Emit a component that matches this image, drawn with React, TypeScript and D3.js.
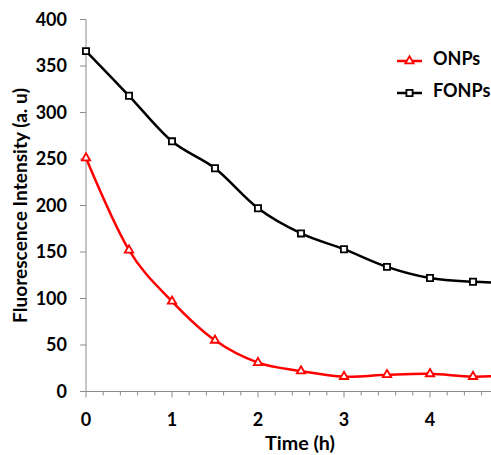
import React, { useEffect, useRef } from 'react';
import * as d3 from 'd3';

// Time points (h)
const times = [0, 0.5, 1, 1.5, 2, 2.5, 3, 3.5, 4, 4.5, 5];
// Fluorescence intensity (a. u)
const onps = [251, 152, 97, 55, 31, 22, 16, 18, 19, 16, 18];
const fonps = [366, 318, 269, 240, 197, 170, 153, 134, 122, 118, 117];
const xTicks = [0, 1, 2, 3, 4];
const yTicks = [0, 50, 100, 150, 200, 250, 300, 350, 400];

const W = 491;
const H = 455;
const font = "Lato, 'Open Sans', sans-serif";

/* Draws the fluorescence decay chart */
function App() {
    const svgRef = useRef<SVGSVGElement>(null);

    useEffect(() => {
        const svg = d3.select(svgRef.current);
        svg.selectAll('*').remove();

        const x = d3.scaleLinear().domain([0, 5]).range([86, 516]);
        const y = d3.scaleLinear().domain([0, 400]).range([391.5, 19.5]);
        const axisColor = '#8c8c8c';

        const boldText = (sel: any, size: number) =>
            sel.style('font-family', font)
                .style('font-size', `${size}px`)
                .style('font-weight', 'bold')
                .attr('fill', '#000000');

        // Axes lines
        svg.append('line')
            .attr('x1', x(0)).attr('x2', W)
            .attr('y1', y(0)).attr('y2', y(0))
            .attr('stroke', axisColor).attr('stroke-width', 1);
        svg.append('line')
            .attr('x1', x(0)).attr('x2', x(0))
            .attr('y1', y(0)).attr('y2', y(400))
            .attr('stroke', axisColor).attr('stroke-width', 1);

        // x ticks: minor every 0.2, major every 1
        const minor = d3.range(0, 26).map((i) => i * 0.2);
        svg.append('g')
            .selectAll('line')
            .data(minor)
            .enter()
            .append('line')
            .attr('x1', (d) => x(d)).attr('x2', (d) => x(d))
            .attr('y1', y(0))
            .attr('y2', (d) => y(0) + (Math.abs(d - Math.round(d)) < 1e-6 ? 6 : 4))
            .attr('stroke', axisColor);

        boldText(svg.append('g')
            .selectAll('text')
            .data(xTicks)
            .enter()
            .append('text')
            .attr('x', (d) => x(d))
            .attr('y', 425.5)
            .attr('text-anchor', 'middle'), 18)
            .text((d) => d);

        // y ticks
        svg.append('g')
            .selectAll('line')
            .data(yTicks)
            .enter()
            .append('line')
            .attr('x1', x(0) - 6).attr('x2', x(0))
            .attr('y1', (d) => y(d)).attr('y2', (d) => y(d))
            .attr('stroke', axisColor);

        boldText(svg.append('g')
            .selectAll('text')
            .data(yTicks)
            .enter()
            .append('text')
            .attr('x', 67)
            .attr('y', (d) => y(d))
            .attr('dy', '0.36em')
            .attr('text-anchor', 'end'), 18)
            .text((d) => d);

        // Axis titles
        boldText(svg.append('text')
            .attr('x', 300).attr('y', 450)
            .attr('text-anchor', 'middle')
            .attr('textLength', 70)
            .attr('lengthAdjust', 'spacingAndGlyphs'), 18)
            .text('Time (h)');

        boldText(svg.append('text')
            .attr('transform', `translate(27, 205.5) rotate(-90)`)
            .attr('text-anchor', 'middle')
            .attr('textLength', 235)
            .attr('lengthAdjust', 'spacingAndGlyphs'), 18)
            .text('Fluorescence Intensity (a. u)');

        // Lines
        const line = d3.line<number>()
            .x((_, i) => x(times[i]))
            .y((d) => y(d))
            .curve(d3.curveCardinal.tension(0));

        const series = [
            { name: 'ONPs', values: onps, color: '#ff0000', marker: 'tri' },
            { name: 'FONPs', values: fonps, color: '#000000', marker: 'sq' },
        ];

        const tri = d3.symbol().type(d3.symbolTriangle).size(30);
        const sq = d3.symbol().type(d3.symbolSquare).size(38);

        const plot = svg.append('g');
        series.forEach((s) => {
            plot.append('path')
                .attr('d', line(s.values))
                .attr('fill', 'none')
                .attr('stroke', s.color)
                .attr('stroke-width', 2.5);

            plot.selectAll(null)
                .data(s.values)
                .enter()
                .append('path')
                .attr('d', s.marker === 'tri' ? tri() : sq())
                .attr('transform', (d, i) => `translate(${x(times[i])}, ${y(d)})`)
                .attr('fill', '#ffffff')
                .attr('stroke', s.color)
                .attr('stroke-width', 1.8);
        });

        // Legend
        const legend = svg.append('g');
        series.forEach((s, i) => {
            const ly = 61 + i * 32;
            legend.append('line')
                .attr('x1', 397).attr('x2', 422)
                .attr('y1', ly).attr('y2', ly)
                .attr('stroke', s.color)
                .attr('stroke-width', 2.5);
            legend.append('path')
                .attr('d', s.marker === 'tri' ? tri() : sq())
                .attr('transform', `translate(409.5, ${ly})`)
                .attr('fill', '#ffffff')
                .attr('stroke', s.color)
                .attr('stroke-width', 1.8);
            boldText(legend.append('text')
                .attr('x', 433)
                .attr('y', ly - 2)
                .attr('dy', '0.36em'), 18)
                .text(s.name);
        });
    }, []);

    return (
        <svg
            ref={svgRef}
            width={W}
            height={H}
            style={{ position: 'absolute', left: 0, top: 0, background: '#ffffff' }}
        />
    );
}

export default App;
